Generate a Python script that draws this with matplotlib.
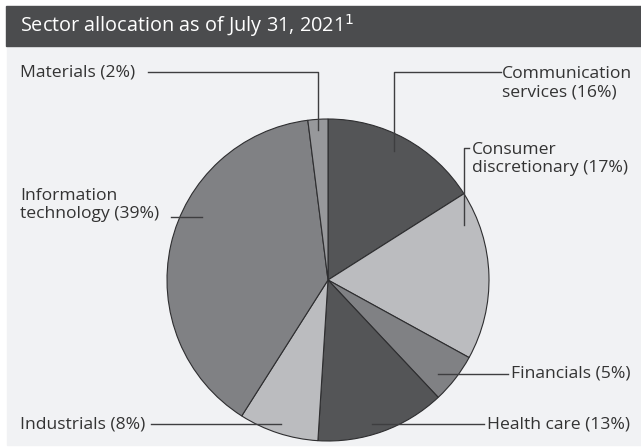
import matplotlib.pyplot as plt
from matplotlib.patches import Rectangle

# data
sectors = ["Communication services", "Consumer discretionary", "Financials",
           "Health care", "Industrials", "Information technology", "Materials"]
weights = [16, 17, 5, 13, 8, 39, 2]
colors = ["#545557", "#bbbcbf", "#808184", "#545557", "#bbbcbf", "#808184", "#97989b"]

W, H = 641, 448
plt.rcParams['font.family'] = ['Open Sans', 'DejaVu Sans']

fig = plt.figure(figsize=(W / 100, H / 100), dpi=100)
ax = fig.add_axes([0, 0, 1, 1])


def py(y):
    # pixel row -> data y
    return H - y


# pie
cx, cy, r = 328, 280, 161
ax.pie(weights, colors=colors, startangle=90, counterclock=False,
       center=(cx, py(cy)), radius=r, frame=True,
       wedgeprops=dict(edgecolor="#2e2e30", linewidth=0.8))
ax.set_xlim(0, W)
ax.set_ylim(0, H)
ax.set_aspect('equal')
ax.axis('off')

# panels
ax.add_patch(Rectangle((7, py(445)), W - 7, 445 - 46, color="#f1f2f4", zorder=-1))
ax.add_patch(Rectangle((6, py(46)), W - 6, 40, color="#4b4c4e", zorder=-1))
ax.text(20, py(26), "Sector allocation as of July 31, 2021$^1$", color="white",
        fontsize=14.3, va="center", ha="left")

lc = "#3e3e40"
tc = "#333333"
fs = 12.6


def leader(xs, ys):
    ax.plot(xs, [py(v) for v in ys], color=lc, lw=1, zorder=5)


# Materials
ax.text(20, py(72), "Materials (%d%%)" % weights[6], fontsize=fs, va="center", color=tc)
leader([148, 318, 318], [72, 72, 130])
# Communication services
ax.text(502, py(83), "Communication\nservices (%d%%)" % weights[0], fontsize=fs,
        va="center", color=tc, linespacing=1.2)
leader([501, 394, 394], [72, 72, 151])
# Consumer discretionary
ax.text(472, py(159), "Consumer\ndiscretionary (%d%%)" % weights[1], fontsize=fs,
        va="center", color=tc, linespacing=1.2)
leader([469, 464, 464], [148, 148, 225])
# Information technology
ax.text(20, py(205), "Information\ntechnology (%d%%)" % weights[5], fontsize=fs,
        va="center", color=tc, linespacing=1.2)
leader([171, 202], [217, 217])
# Financials
ax.text(511, py(374), "Financials (%d%%)" % weights[2], fontsize=fs, va="center", color=tc)
leader([438, 508], [374, 374])
# Health care
ax.text(487, py(424), "Health care (%d%%)" % weights[3], fontsize=fs, va="center", color=tc)
leader([372, 484], [424, 424])
# Industrials
ax.text(20, py(424), "Industrials (%d%%)" % weights[4], fontsize=fs, va="center", color=tc)
leader([151, 281], [424, 424])

fig.savefig("out.png", dpi=100)
